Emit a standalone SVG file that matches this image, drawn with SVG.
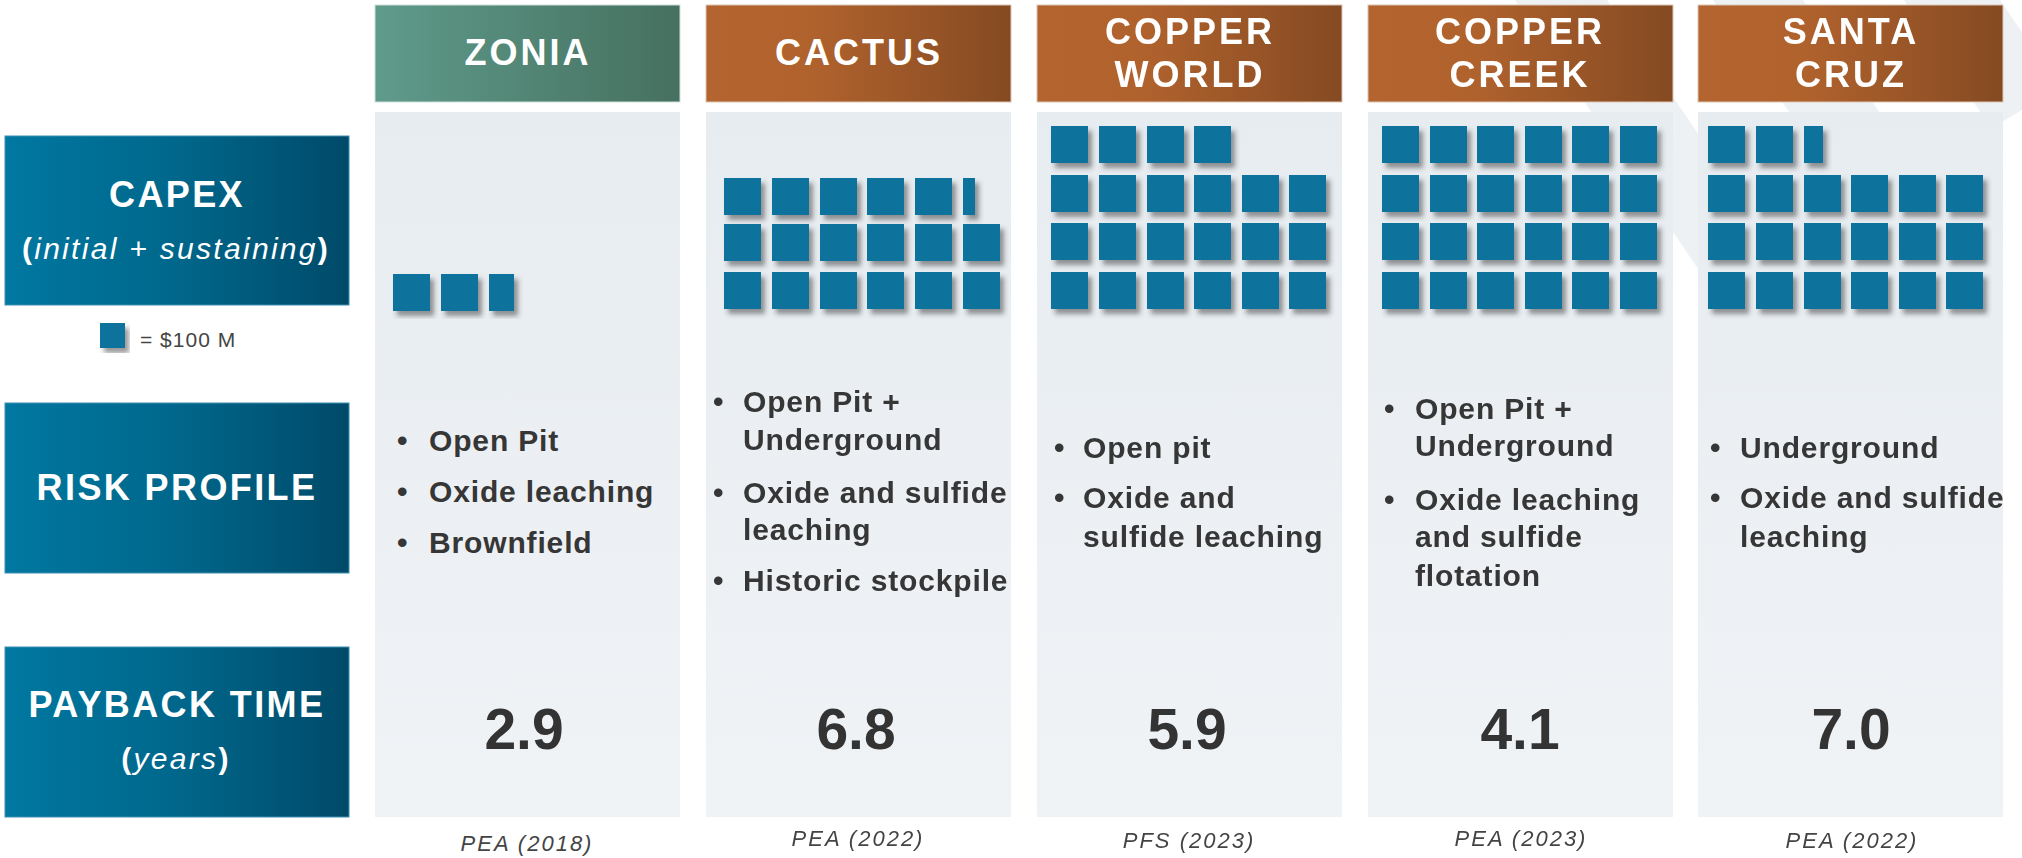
<svg xmlns="http://www.w3.org/2000/svg" xmlns:xlink="http://www.w3.org/1999/xlink" width="2022" height="858" viewBox="0 0 2022 858">
<style>
.hdr{font-family:"Liberation Sans",Arial,sans-serif;font-weight:bold;font-size:36px;fill:#fff;letter-spacing:3px;text-anchor:middle}
.side{font-family:"Liberation Sans",Arial,sans-serif;font-weight:bold;font-size:36px;fill:#fff;letter-spacing:2.4px;text-anchor:middle}
.sub{font-family:"Liberation Sans",Arial,sans-serif;font-size:30px;fill:#fff;letter-spacing:2.3px;text-anchor:middle}
.sub .b{font-weight:bold;font-style:normal}
.sub .i{font-style:italic}
.bul{font-family:"Liberation Sans",Arial,sans-serif;font-weight:bold;font-size:30px;fill:#363636;letter-spacing:0.85px}
.num{font-family:"Liberation Sans",Arial,sans-serif;font-weight:bold;font-size:57px;fill:#333;text-anchor:middle}
.foot{font-family:"Liberation Sans",Arial,sans-serif;font-style:italic;font-size:22px;fill:#444;letter-spacing:2px;text-anchor:middle}
.leg{font-family:"Liberation Sans",Arial,sans-serif;font-size:21px;fill:#444;letter-spacing:1px}
.panel{fill:url(#gPanel)}
.brown{fill:url(#gBrown);stroke:#dcc6b6;stroke-width:1}
.green{fill:url(#gGreen);stroke:#cfe0da;stroke-width:1}
.blue{fill:url(#gBlue);stroke:#3d8fb3;stroke-width:1}
.sqs{fill:#0C739C;filter:url(#shadow)}
.wm{fill:#eef1f4}
</style>
<defs>
<linearGradient id="gBrown" x1="0" y1="0" x2="1" y2="0">
<stop offset="0" stop-color="#B4642E"/><stop offset="0.35" stop-color="#B0622D"/><stop offset="1" stop-color="#854A22"/>
</linearGradient>
<linearGradient id="gGreen" x1="0" y1="0" x2="1" y2="0">
<stop offset="0" stop-color="#5F9B8B"/><stop offset="1" stop-color="#46705F"/>
</linearGradient>
<linearGradient id="gBlue" x1="0" y1="0" x2="1" y2="0">
<stop offset="0" stop-color="#0078A1"/><stop offset="0.5" stop-color="#00678B"/><stop offset="1" stop-color="#004A69"/>
</linearGradient>
<linearGradient id="gPanel" x1="0" y1="0" x2="0" y2="1">
<stop offset="0" stop-color="#E7ECF0"/><stop offset="1" stop-color="#F0F3F6"/>
</linearGradient>
<filter id="shadow" x="-10%" y="-10%" width="130%" height="130%">
<feDropShadow dx="4" dy="5" stdDeviation="2.5" flood-color="#333" flood-opacity="0.5"/>
</filter>
<clipPath id="wmClip"><polygon points="1400,0 2022,0 2022,110 1500,420 1400,420"/></clipPath>
<rect id="sq" width="37" height="37"/>
</defs>

<g id="watermark" clip-path="url(#wmClip)">
<polygon class="wm" points="1515,0 1607,0 1893,420 1801,420"/>
<polygon class="wm" points="1713,0 1803,0 2089,420 1999,420"/>
<polygon class="wm" points="1904,0 2000,0 2286,420 2190,420"/>
</g>

<g id="side-capex">
<rect class="blue" x="5" y="136" width="344" height="169"/>
<text class="side" x="177" y="207">CAPEX</text>
<text class="sub" x="176" y="259"><tspan class="b">(</tspan><tspan class="i">initial + sustaining</tspan><tspan class="b">)</tspan></text>
</g>
<g id="legend">
<rect class="sqs" x="100" y="323" width="25" height="25"/>
<text class="leg" x="140" y="347">= $100 M</text>
</g>
<g id="side-risk">
<rect class="blue" x="5" y="403" width="344" height="170"/>
<text class="side" x="177" y="500">RISK PROFILE</text>
</g>
<g id="side-payback">
<rect class="blue" x="5" y="647" width="344" height="170"/>
<text class="side" x="177" y="717">PAYBACK TIME</text>
<text class="sub" x="176" y="769"><tspan class="b">(</tspan><tspan class="i">years</tspan><tspan class="b">)</tspan></text>
</g>

<g id="col-zonia">
<rect class="green" x="375" y="5" width="305" height="97"/>
<text class="hdr" x="528" y="65">ZONIA</text>
<rect class="panel" x="375" y="112" width="305" height="705"/>
<g class="sqs">
<use href="#sq" x="393" y="274"/><use href="#sq" x="441" y="274"/><rect x="489" y="274" width="25" height="37"/>
</g>
<text class="bul" x="397" y="451">•</text><text class="bul" x="429" y="451">Open Pit</text>
<text class="bul" x="397" y="502">•</text><text class="bul" x="429" y="502">Oxide leaching</text>
<text class="bul" x="397" y="553">•</text><text class="bul" x="429" y="553">Brownfield</text>
<text class="num" x="524" y="749">2.9</text>
<text class="foot" x="527" y="851">PEA (2018)</text>
</g>

<g id="col-cactus">
<rect class="brown" x="706" y="5" width="305" height="97"/>
<text class="hdr" x="859" y="65">CACTUS</text>
<rect class="panel" x="706" y="112" width="305" height="705"/>
<g class="sqs">
<use href="#sq" x="724" y="178"/><use href="#sq" x="772" y="178"/><use href="#sq" x="820" y="178"/><use href="#sq" x="867" y="178"/><use href="#sq" x="915" y="178"/><rect x="963" y="178" width="12" height="37"/>
<use href="#sq" x="724" y="224"/><use href="#sq" x="772" y="224"/><use href="#sq" x="820" y="224"/><use href="#sq" x="867" y="224"/><use href="#sq" x="915" y="224"/><use href="#sq" x="963" y="224"/>
<use href="#sq" x="724" y="272"/><use href="#sq" x="772" y="272"/><use href="#sq" x="820" y="272"/><use href="#sq" x="867" y="272"/><use href="#sq" x="915" y="272"/><use href="#sq" x="963" y="272"/>
</g>
<text class="bul" x="713" y="412">•</text><text class="bul" x="743" y="412">Open Pit +</text>
<text class="bul" x="743" y="450">Underground</text>
<text class="bul" x="713" y="503">•</text><text class="bul" x="743" y="503">Oxide and sulfide</text>
<text class="bul" x="743" y="540">leaching</text>
<text class="bul" x="713" y="591">•</text><text class="bul" x="743" y="591">Historic stockpile</text>
<text class="num" x="856" y="749">6.8</text>
<text class="foot" x="858" y="846">PEA (2022)</text>
</g>

<g id="col-copper-world">
<rect class="brown" x="1037" y="5" width="305" height="97"/>
<text class="hdr" x="1190" y="44">COPPER</text>
<text class="hdr" x="1190" y="87">WORLD</text>
<rect class="panel" x="1037" y="112" width="305" height="705"/>
<g class="sqs">
<use href="#sq" x="1051" y="126"/><use href="#sq" x="1099" y="126"/><use href="#sq" x="1147" y="126"/><use href="#sq" x="1194" y="126"/>
<use href="#sq" x="1051" y="175"/><use href="#sq" x="1099" y="175"/><use href="#sq" x="1147" y="175"/><use href="#sq" x="1194" y="175"/><use href="#sq" x="1242" y="175"/><use href="#sq" x="1289" y="175"/>
<use href="#sq" x="1051" y="223"/><use href="#sq" x="1099" y="223"/><use href="#sq" x="1147" y="223"/><use href="#sq" x="1194" y="223"/><use href="#sq" x="1242" y="223"/><use href="#sq" x="1289" y="223"/>
<use href="#sq" x="1051" y="272"/><use href="#sq" x="1099" y="272"/><use href="#sq" x="1147" y="272"/><use href="#sq" x="1194" y="272"/><use href="#sq" x="1242" y="272"/><use href="#sq" x="1289" y="272"/>
</g>
<text class="bul" x="1054" y="458">•</text><text class="bul" x="1083" y="458">Open pit</text>
<text class="bul" x="1054" y="508">•</text><text class="bul" x="1083" y="508">Oxide and</text>
<text class="bul" x="1083" y="547">sulfide leaching</text>
<text class="num" x="1187" y="749">5.9</text>
<text class="foot" x="1189" y="848">PFS (2023)</text>
</g>

<g id="col-copper-creek">
<rect class="brown" x="1368" y="5" width="305" height="97"/>
<text class="hdr" x="1520" y="44">COPPER</text>
<text class="hdr" x="1520" y="87">CREEK</text>
<rect class="panel" x="1368" y="112" width="305" height="705"/>
<g class="sqs">
<use href="#sq" x="1382" y="126"/><use href="#sq" x="1430" y="126"/><use href="#sq" x="1477" y="126"/><use href="#sq" x="1525" y="126"/><use href="#sq" x="1572" y="126"/><use href="#sq" x="1620" y="126"/>
<use href="#sq" x="1382" y="175"/><use href="#sq" x="1430" y="175"/><use href="#sq" x="1477" y="175"/><use href="#sq" x="1525" y="175"/><use href="#sq" x="1572" y="175"/><use href="#sq" x="1620" y="175"/>
<use href="#sq" x="1382" y="223"/><use href="#sq" x="1430" y="223"/><use href="#sq" x="1477" y="223"/><use href="#sq" x="1525" y="223"/><use href="#sq" x="1572" y="223"/><use href="#sq" x="1620" y="223"/>
<use href="#sq" x="1382" y="272"/><use href="#sq" x="1430" y="272"/><use href="#sq" x="1477" y="272"/><use href="#sq" x="1525" y="272"/><use href="#sq" x="1572" y="272"/><use href="#sq" x="1620" y="272"/>
</g>
<text class="bul" x="1384" y="419">•</text><text class="bul" x="1415" y="419">Open Pit +</text>
<text class="bul" x="1415" y="456">Underground</text>
<text class="bul" x="1384" y="510">•</text><text class="bul" x="1415" y="510">Oxide leaching</text>
<text class="bul" x="1415" y="547">and sulfide</text>
<text class="bul" x="1415" y="586">flotation</text>
<text class="num" x="1520" y="749">4.1</text>
<text class="foot" x="1521" y="846">PEA (2023)</text>
</g>

<g id="col-santa-cruz">
<rect class="brown" x="1698" y="5" width="305" height="97"/>
<text class="hdr" x="1851" y="44">SANTA</text>
<text class="hdr" x="1851" y="87">CRUZ</text>
<rect class="panel" x="1698" y="112" width="305" height="705"/>
<g class="sqs">
<use href="#sq" x="1708" y="126"/><use href="#sq" x="1756" y="126"/><rect x="1804" y="126" width="19" height="37"/>
<use href="#sq" x="1708" y="175"/><use href="#sq" x="1756" y="175"/><use href="#sq" x="1804" y="175"/><use href="#sq" x="1851" y="175"/><use href="#sq" x="1899" y="175"/><use href="#sq" x="1946" y="175"/>
<use href="#sq" x="1708" y="223"/><use href="#sq" x="1756" y="223"/><use href="#sq" x="1804" y="223"/><use href="#sq" x="1851" y="223"/><use href="#sq" x="1899" y="223"/><use href="#sq" x="1946" y="223"/>
<use href="#sq" x="1708" y="272"/><use href="#sq" x="1756" y="272"/><use href="#sq" x="1804" y="272"/><use href="#sq" x="1851" y="272"/><use href="#sq" x="1899" y="272"/><use href="#sq" x="1946" y="272"/>
</g>
<text class="bul" x="1710" y="458">•</text><text class="bul" x="1740" y="458">Underground</text>
<text class="bul" x="1710" y="508">•</text><text class="bul" x="1740" y="508">Oxide and sulfide</text>
<text class="bul" x="1740" y="547">leaching</text>
<text class="num" x="1851" y="749">7.0</text>
<text class="foot" x="1852" y="848">PEA (2022)</text>
</g>

<g id="connectors"/>
</svg>
